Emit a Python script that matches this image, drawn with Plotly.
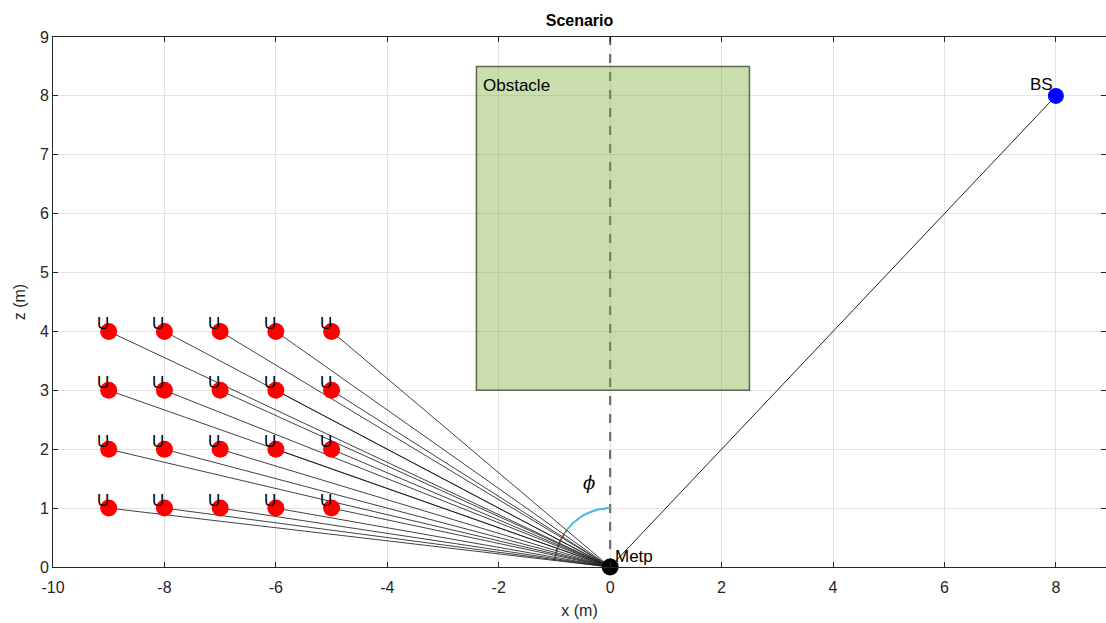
import numpy as np
import plotly.graph_objects as go

# ---- data ----
user_x = [-9, -8, -7, -6, -5]
user_z = [1, 2, 3, 4]
metp = (0, 0)
bs = (8, 8)
obstacle_x = [-2.4, 2.5]
obstacle_z = [3, 8.5]
x_ticks = [-10, -8, -6, -4, -2, 0, 2, 4, 6, 8]
x_tick_text = ["-10", "-8", "-6", "-4", "-2", "0", "2", "4", "6", "8"]
y_ticks = [0, 1, 2, 3, 4, 5, 6, 7, 8, 9]
y_tick_text = ["0", "1", "2", "3", "4", "5", "6", "7", "8", "9"]
arc_radius = 1.0
matlab_colors = ["#0072BD", "#D95319", "#EDB120", "#7E2F8E", "#77AC30", "#4DBEEE", "#A2142F"]

font = "Liberation Sans, Arial, sans-serif"
fig = go.Figure()

users = [(ux, uz) for uz in user_z for ux in user_x]

# obstacle
fig.add_shape(type="rect", x0=obstacle_x[0], x1=obstacle_x[1], y0=obstacle_z[0], y1=obstacle_z[1],
              fillcolor="rgba(119,172,48,0.4)", line=dict(color="rgba(70,80,60,0.85)", width=1.5),
              layer="above")

# vertical dashed line
fig.add_trace(go.Scatter(x=[0, 0], y=[0, 9], mode="lines",
                         line=dict(color="#6e6e6e", width=2.2, dash="dash"), hoverinfo="skip"))

# angle arcs (sorted, longest first so the smallest ends on top)
angles = sorted([np.arctan2(-ux, uz) for ux, uz in users], reverse=True)
for i, a in enumerate(angles):
    t = np.linspace(0, a, 60)
    last = i == len(angles) - 1
    col = "#4DBEEE" if last else matlab_colors[i % len(matlab_colors)]
    fig.add_trace(go.Scatter(x=-arc_radius * np.sin(t), y=arc_radius * np.cos(t), mode="lines",
                             line=dict(color=col, width=2 if last else 1), hoverinfo="skip"))

# lines from users to metp
for ux, uz in users:
    fig.add_trace(go.Scatter(x=[ux, metp[0]], y=[uz, metp[1]], mode="lines",
                             line=dict(color="#222222", width=1), opacity=0.85, hoverinfo="skip"))
# BS line
fig.add_trace(go.Scatter(x=[metp[0], bs[0]], y=[metp[1], bs[1]], mode="lines",
                         line=dict(color="#222222", width=1), hoverinfo="skip"))

# user markers
fig.add_trace(go.Scatter(x=[u[0] for u in users], y=[u[1] for u in users], mode="markers",
                         marker=dict(color="#ff0000", size=17), hoverinfo="skip", cliponaxis=False))
# BS marker
fig.add_trace(go.Scatter(x=[bs[0]], y=[bs[1]], mode="markers",
                         marker=dict(color="#0000ff", size=16), hoverinfo="skip", cliponaxis=False))
# Metp marker
fig.add_trace(go.Scatter(x=[metp[0]], y=[metp[1]], mode="markers",
                         marker=dict(color="#000000", size=17), hoverinfo="skip", cliponaxis=False))

# texts
for ux, uz in users:
    fig.add_annotation(x=ux, y=uz, text="U", showarrow=False, xanchor="center", yanchor="middle",
                       xshift=-6, yshift=8, font=dict(family=font, size=17, color="#000000"))
fig.add_annotation(x=bs[0], y=bs[1], text="BS", showarrow=False, xanchor="right", yanchor="middle",
                   xshift=-1, yshift=11, font=dict(family=font, size=17, color="#000000"))
fig.add_annotation(x=metp[0], y=metp[1], text="Metp", showarrow=False, xanchor="left", yanchor="middle",
                   xshift=3, yshift=11, font=dict(family=font, size=17, color="#000000"))
fig.add_annotation(x=obstacle_x[0], y=obstacle_z[1], text="Obstacle", showarrow=False,
                   xanchor="left", yanchor="middle", xshift=5, yshift=-19,
                   font=dict(family=font, size=17, color="#000000"))
fig.add_annotation(x=-0.38, y=1.43, text="<i>ϕ</i>", showarrow=False, xanchor="center", yanchor="middle",
                   font=dict(family="DejaVu Serif, serif", size=18, color="#000000"))

axis_common = dict(showgrid=True, gridcolor="#e3e3e3", gridwidth=1, zeroline=False,
                   showline=True, linecolor="#262626", linewidth=1, mirror="allticks",
                   ticks="inside", ticklen=5, tickcolor="#262626", automargin=False,
                   tickfont=dict(family=font, size=16, color="#262626"))

fig.update_layout(
    width=1106, height=623,
    margin=dict(l=53, r=0, t=37, b=56),
    paper_bgcolor="white", plot_bgcolor="white",
    showlegend=False,
    title=dict(text="<b>Scenario</b>", x=0.5, xref="paper", xanchor="center", y=1 - 20 / 623,
               yanchor="middle", font=dict(family=font, size=16, color="#000000")),
    xaxis=dict(range=[-10, 8.9], tickvals=x_ticks, ticktext=x_tick_text, ticklabelstandoff=6,
               title=dict(text="x (m)", standoff=9, font=dict(family=font, size=16, color="#262626")),
               **axis_common),
    yaxis=dict(range=[0, 9], tickvals=y_ticks, ticktext=y_tick_text,
               title=dict(text="z (m)", standoff=10, font=dict(family=font, size=16, color="#262626")),
               **axis_common),
)
fig.write_html("out.html", config={"displayModeBar": False},
               post_script="document.body.style.margin='0';document.body.style.overflow='hidden';")
